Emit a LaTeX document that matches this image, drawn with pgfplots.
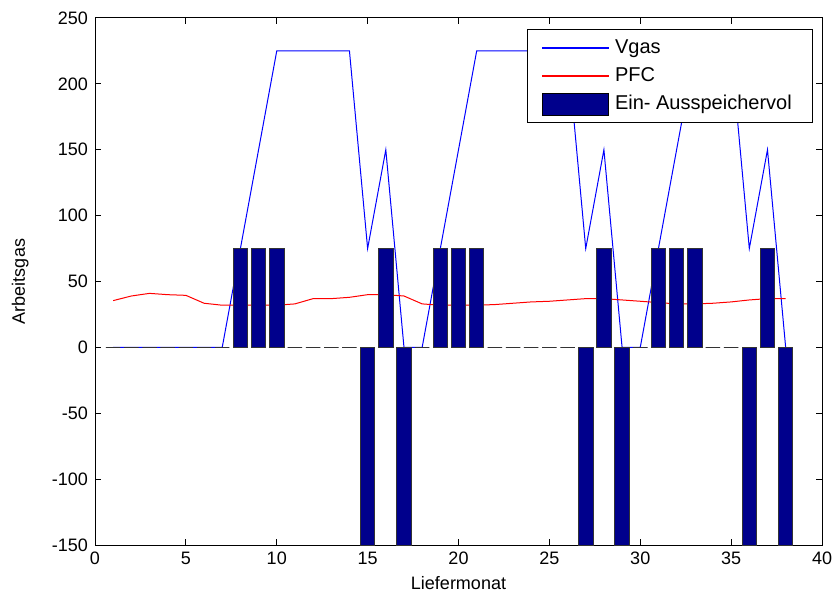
\documentclass[border=0pt]{standalone}
\usepackage{fontspec}
\setmainfont{Liberation Sans}
\usepackage{pgfplots}
\pgfplotsset{compat=1.18}
\definecolor{vgasblue}{RGB}{0,0,255}
\definecolor{pfcred}{RGB}{255,0,0}
\definecolor{barnavy}{RGB}{0,0,140}

% Arbeitsgas je Liefermonat
\pgfplotstableread{
m  vgas  pfc   vol
1  0     35.5  0
2  0     39    0
3  0     41    0
4  0     40    0
5  0     39.5  0
6  0     33.5  0
7  0     32    0
8  75    32    75
9  150   32    75
10 225   32    75
11 225   33    0
12 225   37    0
13 225   37    0
14 225   38    0
15 75    40    -150
16 150   40    75
17 0     39    -150
18 0     33    0
19 75    32    75
20 150   32    75
21 225   32    75
22 225   32.5  0
23 225   33.5  0
24 225   34.5  0
25 225   35    0
26 225   36    0
27 75    37    -150
28 150   37    75
29 0     36    -150
30 0     35    0
31 75    34    75
32 150   33    75
33 225   33    75
34 225   33.5  0
35 225   34.5  0
36 75    36    -150
37 150   37    75
38 0     37    -150
}\datatab

\begin{document}
\begin{tikzpicture}
\begin{axis}[
    name=ax,
    scale only axis,
    width=363.5pt, height=263.5pt,
    xmin=0, xmax=40, ymin=-150, ymax=250,
    xtick={0,5,...,40},
    ytick={-150,-100,...,250},
    tick align=inside,
    major tick length=3pt,
    axis line style={black, line width=0.5pt},
    every tick/.style={black, line width=0.5pt},
    font=\fontsize{9}{11}\selectfont,
    /pgf/number format/assume math mode=true,
    xlabel={Liefermonat},
    ylabel={Arbeitsgas},
    every axis x label/.style={at={(axis description cs:0.5,-0.072)}, anchor=center},
    every axis y label/.style={at={(axis description cs:-0.103,0.5)}, anchor=center, rotate=90},
    legend style={at={(0.988,0.979)}, anchor=north east, draw=black, fill=white,
        line width=0.5pt, font=\fontsize{10}{12}\selectfont,
        inner xsep=7.5pt, inner ysep=3pt, row sep=1.5pt,
        nodes={inner xsep=3pt}},
    legend cell align=left,
]
\addplot[draw=vgasblue, line width=0.5pt,
    legend image code/.code={\fill[vgasblue] (0pt,-0.25pt) rectangle (33pt,0.25pt);}]
    table[x=m, y=vgas] {\datatab};
\addlegendentry{Vgas}
\addplot[draw=pfcred, line width=0.5pt,
    legend image code/.code={\fill[pfcred] (0pt,-0.25pt) rectangle (33pt,0.25pt);}]
    table[x=m, y=pfc] {\datatab};
\addlegendentry{PFC}
\addplot[ybar, bar width=0.8, fill=barnavy, draw=black!80, line width=0.5pt,
    legend image code/.code={\draw[fill=barnavy, draw=black, line width=0.5pt] (0pt,-5.5pt) rectangle (33pt,5.5pt);}]
    table[x=m, y=vol] {\datatab};
\addlegendentry{Ein- Ausspeichervol}
\end{axis}
\pgfresetboundingbox
\path[use as bounding box] ([xshift=-47.5pt,yshift=-26.5pt]ax.south west) rectangle ([xshift=7pt,yshift=9pt]ax.north east);
\end{tikzpicture}
\end{document}
